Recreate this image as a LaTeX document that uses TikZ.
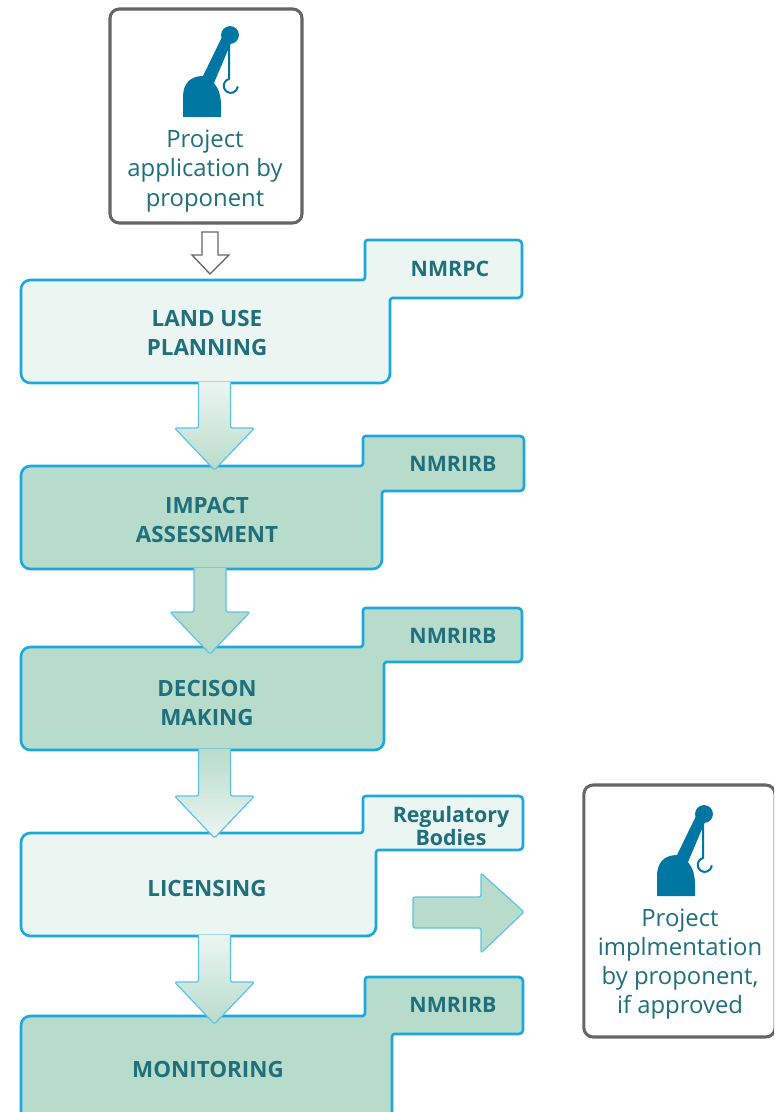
\documentclass[tikz,border=0pt]{standalone}
\usepackage{fontspec}
\setmainfont{Open Sans}
\usetikzlibrary{calc}
\definecolor{cyanline}{HTML}{1BA8DF}
\definecolor{arrline}{HTML}{5CC3E8}
\definecolor{palefill}{HTML}{EBF5F2}
\definecolor{greenfill}{HTML}{B8DCCB}
\definecolor{tealtext}{HTML}{1F6F7C}
\definecolor{iconblue}{HTML}{0076A3}
\definecolor{greyline}{HTML}{666666}
\tikzset{
  x=0.75pt,y=-0.75pt,
  flowbox/.style={draw=cyanline,line width=2pt,line join=round},
  palebox/.style={flowbox,fill=palefill},
  greenbox/.style={flowbox,fill=greenfill},
  headtext/.style={font=\bfseries\fontsize{16.8}{21.7}\selectfont,text=tealtext,align=center,inner sep=0pt},
  ownertext/.style={font=\bfseries\fontsize{16}{17}\selectfont,text=tealtext,align=center,inner sep=0pt},
  captiontext/.style={font=\fontsize{17.9}{21.9}\selectfont,text=tealtext,align=center,inner sep=0pt},
  whitebox/.style={draw=greyline,line width=2.3pt,fill=white,rounded corners=7pt,minimum width=#1,inner sep=0pt},
  blockarrow/.style={draw=arrline,line width=0.9pt,rounded corners=1.5pt,line join=round},
  hollowarrow/.style={draw=greyline,line width=1pt,fill=white,line join=miter},
}
% #1 left, #2 top, #3 tab x, #4 tab top, #5 right, #6 tab bottom, #7 body right, #8 bottom, #9 style
\newcommand{\stepshape}[9]{%
  \draw[#9,rounded corners=2pt] (100,#2) -- (#3,#2) -- (#3,#4)
    [rounded corners=3pt] -- (#5,#4) -- (#5,#6)
    [rounded corners=2pt] -- (#7,#6)
    [rounded corners=7pt] -- (#7,#8) -- (#1,#8) -- (#1,#2) -- cycle;}
% #1 from-coordinate, #2 tip-coordinate, #3 fill options
\newcommand{\blockdown}[3]{%
  \draw[blockarrow,#3] let \p1=(#1), \p2=(#2) in
    (\x2-12pt,\y1) -- (\x2-12pt,\y2+31.5pt) -- (\x2-30pt,\y2+31.5pt)
    -- (\x2,\y2) -- (\x2+30pt,\y2+31.5pt) -- (\x2+12pt,\y2+31.5pt) -- (\x2+12pt,\y1);}
\newcommand{\craneicon}[2]{%
  \begin{scope}[shift={(#1,#2)}]
    \fill[iconblue] (0,0) -- (0,-20) .. controls (0,-33) and (7,-41) .. (20,-41)
      -- (39,-80) -- (48,-74) -- (31,-34) .. controls (36,-28) and (38,-20) .. (38,-12) -- (38,0) -- cycle;
    \fill[iconblue] (47,-82) circle[radius=6.7pt];
    \draw[iconblue,line width=1.5pt] (46,-74) -- (46,-38) arc[start angle=105,end angle=355,radius=5.3pt];
  \end{scope}}
\begin{document}
\begin{tikzpicture}
\useasboundingbox (0,0) rectangle (774,1112);
\clip (0,0) rectangle (774,1112);
% start box
\node[whitebox=144pt,minimum height=160.5pt] (startbox) at (206,116) {};
\craneicon{183}{117}
\node[captiontext] (startlabel) at (205,171) {Project\\application by\\proponent};
% hollow arrow
\coordinate (hollowtip) at (210,274);
\draw[hollowarrow] (202,232) -- (218,232) -- (218,255) -- (229,255) -- (hollowtip) -- (192,255) -- (202,255) -- cycle;
% step boxes
\stepshape{21}{280}{365}{240}{522}{298}{390}{383}{palebox}
\stepshape{21}{466}{363}{436}{524}{491}{382}{569}{greenbox}
\stepshape{21}{647}{363}{608}{522}{662}{384}{750}{greenbox}
\stepshape{21}{833}{363}{796}{523}{850}{376}{936}{palebox}
\stepshape{21}{1016}{365}{977}{523}{1034}{392}{1150}{greenbox}
% block arrows
\coordinate (aOneFrom) at (214.5,382);   \coordinate (aOneTip) at (214.5,470);
\coordinate (aTwoFrom) at (210,568);   \coordinate (aTwoTip) at (210,654);
\coordinate (aThreeFrom) at (214.5,749); \coordinate (aThreeTip) at (214.5,838);
\coordinate (aFourFrom) at (214.5,935);  \coordinate (aFourTip) at (214.5,1024);
\blockdown{aOneFrom}{aOneTip}{top color=palefill,bottom color=greenfill}
\blockdown{aTwoFrom}{aTwoTip}{fill=greenfill}
\blockdown{aThreeFrom}{aThreeTip}{top color=greenfill,bottom color=palefill}
\blockdown{aFourFrom}{aFourTip}{top color=palefill,bottom color=greenfill}
% labels
\node[headtext] (landuse) at (207,333) {LAND USE\\PLANNING};
\node[headtext] (impact) at (207,520) {IMPACT\\ASSESSMENT};
\node[headtext] (decision) at (207,703) {DECISON\\MAKING};
\node[headtext] (licensing) at (207,888) {LICENSING};
\node[headtext] (monitoring) at (208,1069) {MONITORING};
\node[ownertext] (ownerA) at (450,269) {NMRPC};
\node[ownertext] (ownerB) at (453,464) {NMRIRB};
\node[ownertext] (ownerC) at (453,636) {NMRIRB};
\node[ownertext] (ownerD) at (451,826) {Regulatory\\Bodies};
\node[ownertext] (ownerE) at (453,1005) {NMRIRB};
% right arrow
\coordinate (rightTip) at (524,912);
\draw[blockarrow,fill=greenfill] (413,897) -- (481,897) -- (481,873) -- (rightTip) -- (481,953) -- (481,928) -- (413,928) -- cycle;
% end box
\node[whitebox=143.5pt,minimum height=189pt] (endbox) at (679.5,911) {};
\craneicon{657}{896}
\node[captiontext] (endlabel) at (680,964) {Project\\implmentation\\by proponent,\\if approved};
\end{tikzpicture}
\end{document}
